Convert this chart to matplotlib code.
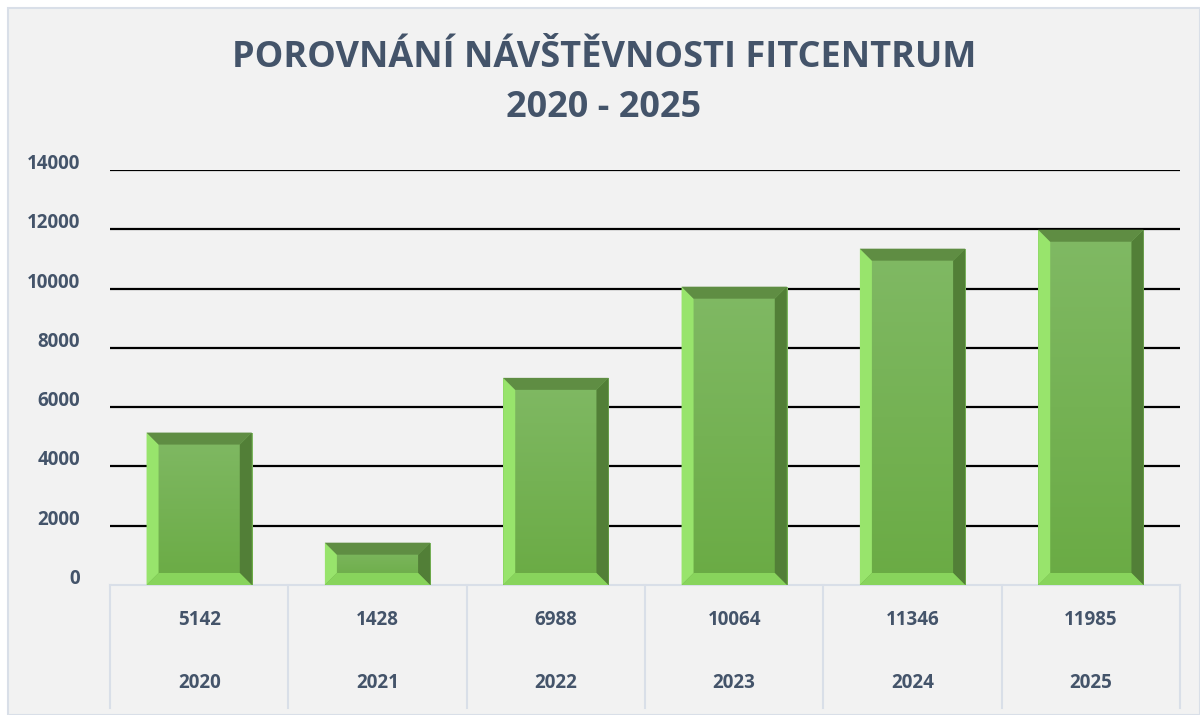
import numpy as np
import matplotlib.pyplot as plt
from matplotlib.colors import LinearSegmentedColormap
from matplotlib.patches import Rectangle, Polygon
from matplotlib.transforms import offset_copy

# Data
years = ['2020', '2021', '2022', '2023', '2024', '2025']
visits = [5142, 1428, 6988, 10064, 11346, 11985]
y_ticks = [0, 2000, 4000, 6000, 8000, 10000, 12000, 14000]

title = 'POROVNÁNÍ NÁVŠTĚVNOSTI FITCENTRUM\n2020 - 2025'
text_color = '#44546a'
bg = '#f2f2f2'
line_light = '#d9dfe8'

plt.rcParams['font.family'] = ['Open Sans', 'DejaVu Sans']

W, H = 1200, 715
fig = plt.figure(figsize=(W / 100, H / 100), dpi=100)
fig.patch.set_facecolor('white')
frame = Rectangle((8 / W, 0), 1 - 8 / W, 1 - 8 / H, transform=fig.transFigure,
                  facecolor=bg, edgecolor=line_light, linewidth=1.5, zorder=-10)
fig.patches.append(frame)

ax_l, ax_r, ax_t, ax_b = 110, 1180, 170, 585
ax = fig.add_axes([ax_l / W, 1 - ax_b / H, (ax_r - ax_l) / W, (ax_b - ax_t) / H])
ax.set_facecolor('none')
ax.set_zorder(1)

n = len(years)
x = np.arange(n)
lab_size = 13.5

# grid, labels sit a little above their lines
ax.set_yticks(y_ticks)
ax.set_yticklabels([])
ax.yaxis.grid(True, color='black', linewidth=1.6, zorder=0)
ax.set_axisbelow(True)
ax.tick_params(axis='y', length=0)
ax.set_xticks([])
for s in ax.spines.values():
    s.set_visible(False)
ytr = offset_copy(ax.get_yaxis_transform(), fig=fig, x=-30, y=6, units='dots')
for t in y_ticks:
    ax.text(0, t, str(t), transform=ytr, ha='right', va='center', fontsize=lab_size,
            fontweight='bold', color=text_color, clip_on=False)

# bars with bevel
bar_w = 0.59
bars = ax.bar(x, visits, width=bar_w, color='#74b04f', zorder=2)

px_x = (ax_r - ax_l) / n          # pixels per x unit
px_y = (ax_b - ax_t) / 14000      # pixels per y unit
bev = 12
grad = np.linspace(0, 1, 100).reshape(-1, 1)
face_cmap = LinearSegmentedColormap.from_list('g', ['#6aab44', '#80b964'])
for b in bars:
    x0, y0 = b.get_x(), b.get_y()
    w, h = b.get_width(), b.get_height()
    x1, y1 = x0 + w, y0 + h
    dx = bev / px_x
    dy = min(bev, h * px_y / 2 - 1) / px_y
    im = ax.imshow(grad, extent=(x0, x1, y0, y1), origin='lower', aspect='auto',
                   cmap=face_cmap, zorder=2.1)
    im.set_clip_path(b)
    polys = [
        ([(x0, y0), (x0 + dx, y0 + dy), (x0 + dx, y1 - dy), (x0, y1)], '#98e46c'),   # left
        ([(x1, y0), (x1 - dx, y0 + dy), (x1 - dx, y1 - dy), (x1, y1)], '#527f37'),   # right
        ([(x0, y1), (x0 + dx, y1 - dy), (x1 - dx, y1 - dy), (x1, y1)], '#5f8d43'),   # top
        ([(x0, y0), (x0 + dx, y0 + dy), (x1 - dx, y0 + dy), (x1, y0)], '#88d45c'),   # bottom
    ]
    for pts, c in polys:
        ax.add_patch(Polygon(pts, closed=True, facecolor=c, edgecolor='none', zorder=2.2))

ax.set_xlim(-0.5, n - 0.5)
ax.set_ylim(0, 14000)
ax.yaxis.get_gridlines()[0].set_visible(False)

# data table below the axis
tr = ax.get_xaxis_transform()
ax_h = ax_b - ax_t
tbl_bottom = -(708 - ax_b) / ax_h
ax.plot([-0.5, n - 0.5], [0, 0], transform=tr, color=line_light, lw=1.5, clip_on=False, zorder=1)
for i in range(n + 1):
    ax.plot([i - 0.5, i - 0.5], [0, tbl_bottom], transform=tr, color=line_light, lw=1.5,
            clip_on=False, zorder=1)
for i in range(n):
    ax.text(x[i], -(620 - ax_b) / ax_h, str(visits[i]), transform=tr, ha='center', va='center',
            fontsize=lab_size, fontweight='bold', color=text_color)
    ax.text(x[i], -(683 - ax_b) / ax_h, years[i], transform=tr, ha='center', va='center',
            fontsize=lab_size, fontweight='bold', color=text_color)

fig.text((8 + W) / 2 / W, 1 - 83 / H, title, ha='center', va='center', fontsize=26,
         fontweight='bold', color=text_color, linespacing=1.5)

fig.savefig('out.png', dpi=100, facecolor=fig.get_facecolor())
